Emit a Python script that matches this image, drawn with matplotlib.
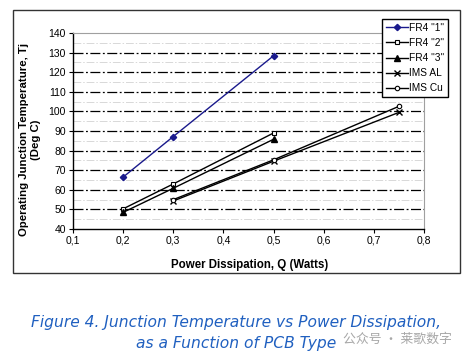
import matplotlib
matplotlib.use('Agg')
import matplotlib.pyplot as plt
from matplotlib.patches import Rectangle
from matplotlib.ticker import MultipleLocator, FuncFormatter

# data
fr4_1_x = [0.2, 0.3, 0.5]
fr4_1_y = [66.5, 87.2, 128.4]
fr4_2_x = [0.2, 0.3, 0.5]
fr4_2_y = [50.3, 63.0, 89.0]
fr4_3_x = [0.2, 0.3, 0.5]
fr4_3_y = [48.5, 60.8, 85.8]
ims_al_x = [0.3, 0.5, 0.75]
ims_al_y = [54.3, 74.6, 99.5]
ims_cu_x = [0.3, 0.5, 0.75]
ims_cu_y = [55.0, 75.3, 102.6]

series_labels = ['FR4 "1"', 'FR4 "2"', 'FR4 "3"', 'IMS AL', 'IMS Cu']

plt.rcParams['font.family'] = ['Liberation Sans', 'DejaVu Sans']

fig = plt.figure(figsize=(4.68, 3.57), dpi=100)
ax = fig.add_axes([0.156, 0.3585, 0.750, 0.549])

# outer frame of the chart
fig.patches.append(Rectangle((0.0278, 0.2353), 0.955, 0.7367, transform=fig.transFigure,
                             fill=False, edgecolor='#333333', lw=1.0))

dash_dot = (0, (8, 2, 1.5, 2))
for v in range(45, 140, 10):
    ax.axhline(v, color='#d8d8d8', lw=0.7, linestyle=dash_dot, zorder=0)
for v in range(50, 140, 10):
    ax.axhline(v, color='black', lw=0.9, linestyle=dash_dot, zorder=1)

ax.plot(fr4_1_x, fr4_1_y, color='#1a1a8c', lw=1.0, marker='D', ms=3.2, label=series_labels[0], zorder=3)
ax.plot(fr4_2_x, fr4_2_y, color='black', lw=1.0, marker='s', ms=3.2, mfc='white', mew=0.8,
        label=series_labels[1], zorder=3)
ax.plot(fr4_3_x, fr4_3_y, color='black', lw=1.0, marker='^', ms=4, label=series_labels[2], zorder=3)
ax.plot(ims_al_x, ims_al_y, color='black', lw=1.0, marker='x', ms=4, mew=1.0, label=series_labels[3], zorder=3)
ax.plot(ims_cu_x, ims_cu_y, color='black', lw=1.0, marker='o', ms=3.2, mfc='white', mew=0.8,
        label=series_labels[4], zorder=3)

ax.set_xlim(0.1, 0.8)
ax.set_ylim(40, 140)
ax.xaxis.set_major_locator(MultipleLocator(0.1))
ax.yaxis.set_major_locator(MultipleLocator(10))
ax.xaxis.set_major_formatter(FuncFormatter(lambda v, p: f'{v:.1f}'.replace('.', ',')))
ax.tick_params(labelsize=7.5, length=3, width=0.8, color='black', pad=2)

for s in ['top', 'right']:
    ax.spines[s].set_color('#a0a0a0')
for s in ['left', 'bottom']:
    ax.spines[s].set_color('black')
    ax.spines[s].set_linewidth(1.0)

fig.text(0.065, 0.608, 'Operating Junction Temperature, Tj\n(Deg C)', rotation=90,
         ha='center', va='center', multialignment='center', fontsize=8.2, fontweight='bold',
         linespacing=1.25)
fig.text(0.534, 0.258, 'Power Dissipation, Q (Watts)', ha='center', va='center',
         fontsize=8.3, fontweight='bold')

leg = ax.legend(loc='upper left', bbox_to_anchor=(0.816, 0.947), bbox_transform=fig.transFigure,
                borderaxespad=0, fontsize=7.3, handlelength=2.2, handletextpad=0.1,
                labelspacing=0.5, borderpad=0.4, fancybox=False, framealpha=1)
leg.get_frame().set_edgecolor('black')
leg.get_frame().set_linewidth(1.0)

cap_color = '#2060c0'
fig.text(0.505, 0.098, 'Figure 4. Junction Temperature vs Power Dissipation,', ha='center', va='center',
         fontsize=11.2, style='italic', color=cap_color, family='DejaVu Sans')
fig.text(0.505, 0.039, 'as a Function of PCB Type', ha='center', va='center',
         fontsize=11.2, style='italic', color=cap_color, family='DejaVu Sans')

fig.text(0.85, 0.05, '公众号 · 莱歌数字', ha='center', va='center', fontsize=9.3,
         color='#a8a8a8', family=['Noto Sans CJK SC', 'DejaVu Sans'])

fig.savefig('out.png', dpi=100)
